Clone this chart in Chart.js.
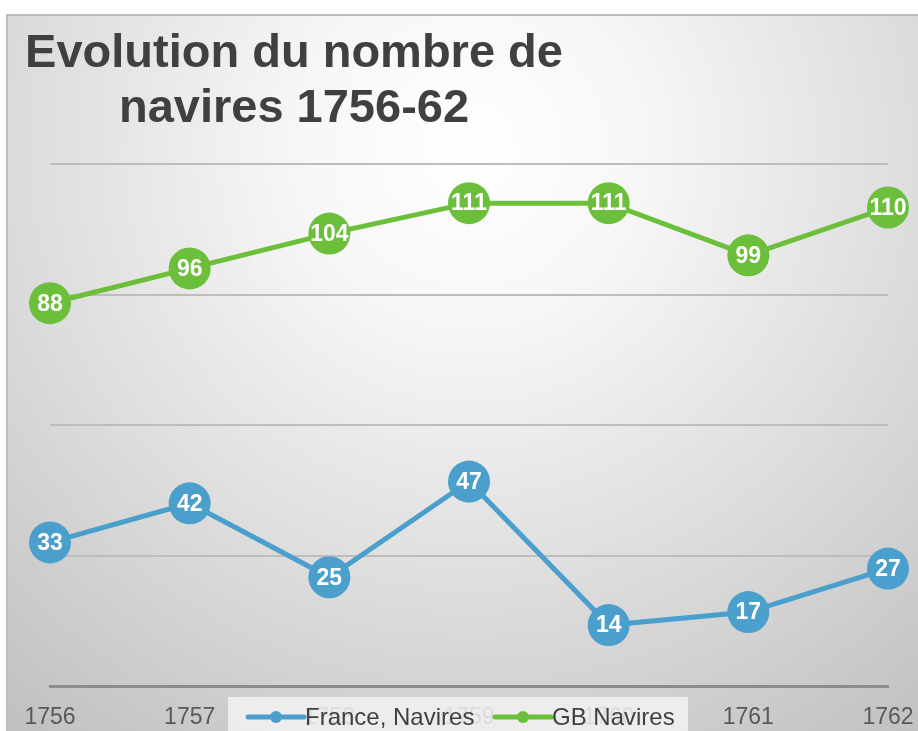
<!DOCTYPE html>
<html>
<head>
<meta charset="utf-8">
<script src="https://cdn.jsdelivr.net/npm/chart.js@4"></script>
<style>
html,body{margin:0;padding:0;background:#fff;}
#wrap{width:918px;height:731px;position:relative;}
</style>
</head>
<body>
<div id="wrap"><canvas id="c" width="918" height="731"></canvas></div>
<script>
const titleLines = ["Evolution du nombre de", "navires 1756-62"];
const years = ["1756", "1757", "1758", "1759", "1760", "1761", "1762"];
const franceLabel = "France, Navires";
const gbLabel = "GB Navires";
const franceShips = [33, 42, 25, 47, 14, 17, 27];
const gbShips = [88, 96, 104, 111, 111, 99, 110];
const yTicks = [0, 30, 60, 90, 120];

const BLUE = "#4a9fcd";
const GREEN = "#6cbf3a";

const bgPlugin = {
  id: "bg",
  beforeDraw(chart) {
    const ctx = chart.ctx;
    ctx.save();
    ctx.fillStyle = "#ffffff";
    ctx.fillRect(0, 0, chart.width, chart.height);
    const g = ctx.createRadialGradient(470, 150, 0, 470, 150, 720);
    g.addColorStop(0, "#ffffff");
    g.addColorStop(0.25, "#f6f6f6");
    g.addColorStop(0.6, "#dedede");
    g.addColorStop(1, "#c2c2c2");
    ctx.fillStyle = g;
    ctx.fillRect(7, 14, chart.width - 7, chart.height - 14);
    ctx.strokeStyle = "#bdbdbd";
    ctx.lineWidth = 2;
    ctx.beginPath();
    ctx.moveTo(7, 731); ctx.lineTo(7, 15); ctx.lineTo(918, 15);
    ctx.stroke();
    ctx.restore();
  },
  afterDraw(chart) {
    const ctx = chart.ctx;
    ctx.save();
    ctx.fillStyle = "#404040";
    ctx.font = "bold 47px 'Liberation Sans', Arial, sans-serif";
    ctx.textAlign = "center";
    ctx.textBaseline = "alphabetic";
    ctx.fillText(titleLines[0], 294, 67);
    ctx.fillText(titleLines[1], 294, 122);
    ctx.fillStyle = "rgba(242,242,242,0.85)";
    ctx.fillRect(228, 697, 460, 34);
    const items = chart.data.datasets.map(d => ({label: d.label, color: d.borderColor}));
    const xs = [248, 495];
    ctx.font = "24px 'Liberation Sans', Arial, sans-serif";
    ctx.textAlign = "left";
    ctx.textBaseline = "middle";
    items.forEach((it, i) => {
      const x = xs[i], y = 717;
      ctx.strokeStyle = it.color;
      ctx.lineWidth = 5;
      ctx.lineCap = "round";
      ctx.beginPath(); ctx.moveTo(x, y); ctx.lineTo(x + 56, y); ctx.stroke();
      ctx.fillStyle = it.color;
      ctx.beginPath(); ctx.arc(x + 28, y, 6, 0, Math.PI * 2); ctx.fill();
      ctx.fillStyle = "#404040";
      ctx.fillText(it.label, x + 57, y + 1);
    });
    ctx.restore();
  },
  afterDatasetsDraw(chart) {
    const ctx = chart.ctx;
    ctx.save();
    ctx.fillStyle = "#ffffff";
    ctx.font = "bold 23px 'Liberation Sans', Arial, sans-serif";
    ctx.textAlign = "center";
    ctx.textBaseline = "middle";
    chart.data.datasets.forEach((ds, di) => {
      const meta = chart.getDatasetMeta(di);
      meta.data.forEach((pt, i) => {
        ctx.fillText(String(ds.data[i]), pt.x, pt.y + 1);
      });
    });
    ctx.restore();
  }
};

new Chart(document.getElementById("c"), {
  type: "line",
  data: {
    labels: years,
    datasets: [
      {label: franceLabel, data: franceShips, borderColor: BLUE, backgroundColor: BLUE,
       borderWidth: 5, pointRadius: 21, pointHoverRadius: 21, pointBorderWidth: 0, tension: 0, clip: false},
      {label: gbLabel, data: gbShips, borderColor: GREEN, backgroundColor: GREEN,
       borderWidth: 5, pointRadius: 21, pointHoverRadius: 21, pointBorderWidth: 0, tension: 0, clip: false}
    ]
  },
  options: {
    responsive: false,
    animation: false,
    events: [],
    layout: {padding: {top: 164, left: 50, right: 30, bottom: 1}},
    plugins: {legend: {display: false}, title: {display: false}, tooltip: {enabled: false}},
    scales: {
      x: {
        offset: false,
        afterFit(scale) { scale.height = 44; scale.paddingLeft = 0; scale.paddingRight = 0; },
        grid: {display: false, drawTicks: false, tickLength: 0},
        border: {display: true, color: "#8c8c8c", width: 3},
        ticks: {color: "#595959", font: {size: 23, family: "'Liberation Sans', Arial, sans-serif"}, padding: 18, maxRotation: 0, autoSkip: false}
      },
      y: {
        min: yTicks[0], max: yTicks[yTicks.length - 1],
        afterBuildTicks(scale) { scale.ticks = yTicks.map(v => ({value: v})); },
        grid: {color: "#bdbdbd", lineWidth: 2, drawTicks: false, tickLength: 0},
        border: {display: false},
        ticks: {display: false}
      }
    }
  },
  plugins: [bgPlugin]
});
</script>
</body>
</html>
